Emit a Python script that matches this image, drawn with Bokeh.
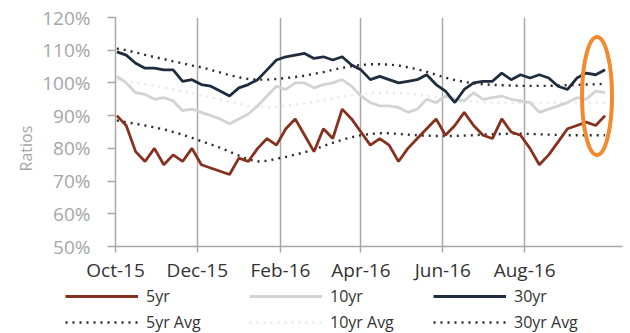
import pandas as pd
from bokeh.plotting import figure
from bokeh.layouts import column
from bokeh.models import (FixedTicker, PrintfTickFormatter, Legend, LegendItem,
                          DatetimeTickFormatter, Range1d)
from bokeh.embed import file_html
from bokeh.resources import INLINE

# ---------------- data (weekly) ----------------
start_date = "2015-10-02"
n_weeks = 53

yr5 = [90, 87, 79, 76, 80, 75, 78, 76, 80, 75,
       74, 73, 72, 77, 76, 80, 83, 81, 86, 89,
       84, 79, 86, 83, 92, 89, 85, 81, 83, 81,
       76, 80, 83, 86, 89, 84, 87, 91, 87, 84,
       83, 89, 85, 84, 80, 75, 78, 82, 86, 87,
       88, 87, 90]

yr10 = [102, 100, 97, 96.5, 95, 95.5, 94.5, 91.5, 92, 91,
        90, 89, 87.5, 89, 90.5, 93, 96, 99, 98, 100,
        100, 98.5, 99.5, 100, 101, 99, 96, 94, 93, 93,
        92.5, 91, 92, 95, 94, 96, 95, 94.5, 97, 95,
        95.5, 96, 95, 94.5, 94, 91, 92, 93, 94, 95.5,
        95, 97.5, 97]

yr30 = [109.5, 108.5, 106, 104.5, 104.5, 104, 104, 100.5, 101, 99.5,
        99, 97.5, 96, 98.5, 99.5, 101, 104, 107, 108, 108.5,
        109, 107.5, 108, 107, 108, 105.5, 104, 101, 102, 101,
        100, 100.5, 101, 102.5, 99.5, 97.5, 94, 98, 100, 100.5,
        100.5, 103, 101, 102.5, 101.5, 102.5, 101.5, 99, 98, 101.5,
        103, 102.5, 104]

yr5_avg = [88.5, 88, 87.5, 87, 86.4, 85.8, 85, 84.2, 83.2, 82.2,
           81.2, 80.2, 79, 77.8, 76.6, 76, 76.2, 76.8, 77.4, 78.1,
           78.8, 79.7, 80.7, 81.7, 82.6, 83.4, 84, 84.4, 84.6, 84.6,
           84.4, 84.2, 84, 83.9, 83.8, 83.8, 83.8, 83.9, 84, 84.2,
           84.3, 84.4, 84.5, 84.5, 84.4, 84.3, 84.2, 84.1, 84, 84,
           84, 84, 84]

yr10_avg = [101, 100.6, 100.1, 99.6, 99.1, 98.6, 98, 97.4, 96.8, 96.2,
            95.6, 95, 94.3, 93.6, 93, 92.7, 92.6, 92.7, 93, 93.4,
            93.8, 94.3, 94.8, 95.3, 95.8, 96.2, 96.6, 96.9, 97, 97,
            96.9, 96.7, 96.4, 96, 95.6, 95.2, 94.8, 94.5, 94.3, 94.1,
            94, 93.9, 93.9, 93.9, 93.9, 93.9, 93.9, 93.9, 94, 94,
            94, 94, 94]

yr30_avg = [110.5, 110, 109.3, 108.6, 107.9, 107.3, 106.6, 106, 105.3, 104.8,
            104, 103.2, 102.4, 101.7, 101.2, 101, 101, 101.2, 101.5, 101.8,
            102.2, 102.8, 103.3, 104, 104.6, 105.1, 105.5, 105.7, 105.7, 105.6,
            105.3, 104.8, 104.2, 103.4, 102.5, 101.6, 100.9, 100.3, 99.9, 99.6,
            99.4, 99.3, 99.2, 99.1, 99.1, 99.1, 99.1, 99.2, 99.3, 99.4,
            99.5, 99.6, 99.7]

tick_dates = ["2015-10-01", "2015-12-01", "2016-02-01", "2016-04-01", "2016-06-01", "2016-08-01"]
y_ticks = [50, 60, 70, 80, 90, 100, 110, 120]
series_names = ["5yr", "10yr", "30yr", "5yr Avg", "10yr Avg", "30yr Avg"]

# highlight ellipse (annotation)
highlight_date = "2016-09-24"
highlight_value = 96

dates = pd.date_range(start_date, periods=n_weeks, freq="7D")

# ---------------- styles ----------------
c5 = "#86311f"
c10 = "#d3d3d3"
c30 = "#1e2c3e"
cavg = "#2b2b2b"
c10avg = "#e8e8e8"
dot = "2 5"
styles = [
    dict(line_color=c5, line_width=2.8),
    dict(line_color=c10, line_width=2.8),
    dict(line_color=c30, line_width=2.8),
    dict(line_color=cavg, line_width=2.4, line_dash=dot),
    dict(line_color=c10avg, line_width=2.4, line_dash=dot),
    dict(line_color=cavg, line_width=2.4, line_dash=dot),
]
series = [yr5, yr10, yr30, yr5_avg, yr10_avg, yr30_avg]

# ---------------- main chart ----------------
p = figure(width=630, height=285, x_axis_type="datetime",
           output_backend="svg", toolbar_location=None,
           x_range=Range1d(pd.Timestamp("2015-10-01"), pd.Timestamp("2016-10-13")),
           y_range=Range1d(50, 120),
           min_border_left=115, min_border_right=8, min_border_top=17, min_border_bottom=34)
p.outline_line_color = None
p.background_fill_color = "white"

# draw averages first, then the series on top
for idx in [3, 4, 5, 1, 0, 2]:
    p.line(dates, series[idx], **styles[idx])

p.ellipse(x=[pd.Timestamp(highlight_date)], y=[highlight_value], width=30, height=118,
          width_units="screen", height_units="screen",
          fill_color=None, line_color="#f28a30", line_width=4)

tick_ms = [pd.Timestamp(d).value / 1e6 for d in tick_dates]
p.xaxis.ticker = FixedTicker(ticks=tick_ms)
p.xaxis.formatter = DatetimeTickFormatter(days="%b-%y", months="%b-%y", years="%b-%y")
p.yaxis.ticker = FixedTicker(ticks=y_ticks)
p.yaxis.formatter = PrintfTickFormatter(format="%d%%")

for ax in (p.xaxis[0], p.yaxis[0]):
    ax.axis_line_color = "#a8a8a8"
    ax.axis_line_width = 1.5
    ax.major_tick_line_color = "#a8a8a8"
    ax.major_tick_line_width = 1.5
    ax.major_tick_in = 0
    ax.minor_tick_line_color = None

p.yaxis.major_tick_out = 8
p.yaxis.major_label_standoff = 17
p.yaxis.major_label_text_font = "Open Sans"
p.yaxis.major_label_text_font_size = "19px"
p.yaxis.major_label_text_color = "#a6a6a6"
p.yaxis.axis_label = "Ratios" + "\u00a0" * 8
p.yaxis.axis_label_text_font = "Open Sans"
p.yaxis.axis_label_text_font_size = "16px"
p.yaxis.axis_label_text_font_style = "normal"
p.yaxis.axis_label_text_color = "#a6a6a6"
p.yaxis.axis_label_standoff = 2

p.xaxis.major_tick_out = 6
p.xaxis.major_label_standoff = 4
p.xaxis.major_label_text_font = "Open Sans"
p.xaxis.major_label_text_font_size = "19px"
p.xaxis.major_label_text_color = "#333333"

p.xgrid.grid_line_color = "#a8a8a8"
p.xgrid.grid_line_width = 1.5
p.ygrid.grid_line_color = None

# ---------------- legend strip ----------------
lg = figure(width=630, height=48, output_backend="svg", toolbar_location=None,
            x_range=Range1d(0, 1), y_range=Range1d(0, 1),
            min_border=0, min_border_left=0, min_border_right=0,
            min_border_top=0, min_border_bottom=0)
try:
    lg.frame_align = False
except Exception:
    pass
lg.axis.visible = False
lg.grid.visible = False
lg.outline_line_color = None

# legend proxies: placed outside the visible range so only the legend shows them
lg_renderers = [lg.line(x=[-5, -4], y=[-5, -4], **st) for st in styles]
order = [0, 3, 1, 4, 2, 5]  # column-major fill -> row 1: series, row 2: averages
legend = Legend(items=[LegendItem(label=series_names[i], renderers=[lg_renderers[i]]) for i in order],
                ncols=3, location=(65, 0))
legend.border_line_color = None
legend.background_fill_alpha = 0
legend.glyph_width = 73
legend.glyph_height = 20
legend.label_standoff = 8
legend.label_width = 99
legend.spacing = 4
legend.padding = 2
legend.margin = 0
legend.label_text_font = "Open Sans"
legend.label_text_font_size = "16px"
legend.label_text_color = "#333333"
legend.label_height = 20
lg.add_layout(legend)

layout = column(p, lg, spacing=0)
open("out.html", "w").write(file_html(layout, INLINE))
